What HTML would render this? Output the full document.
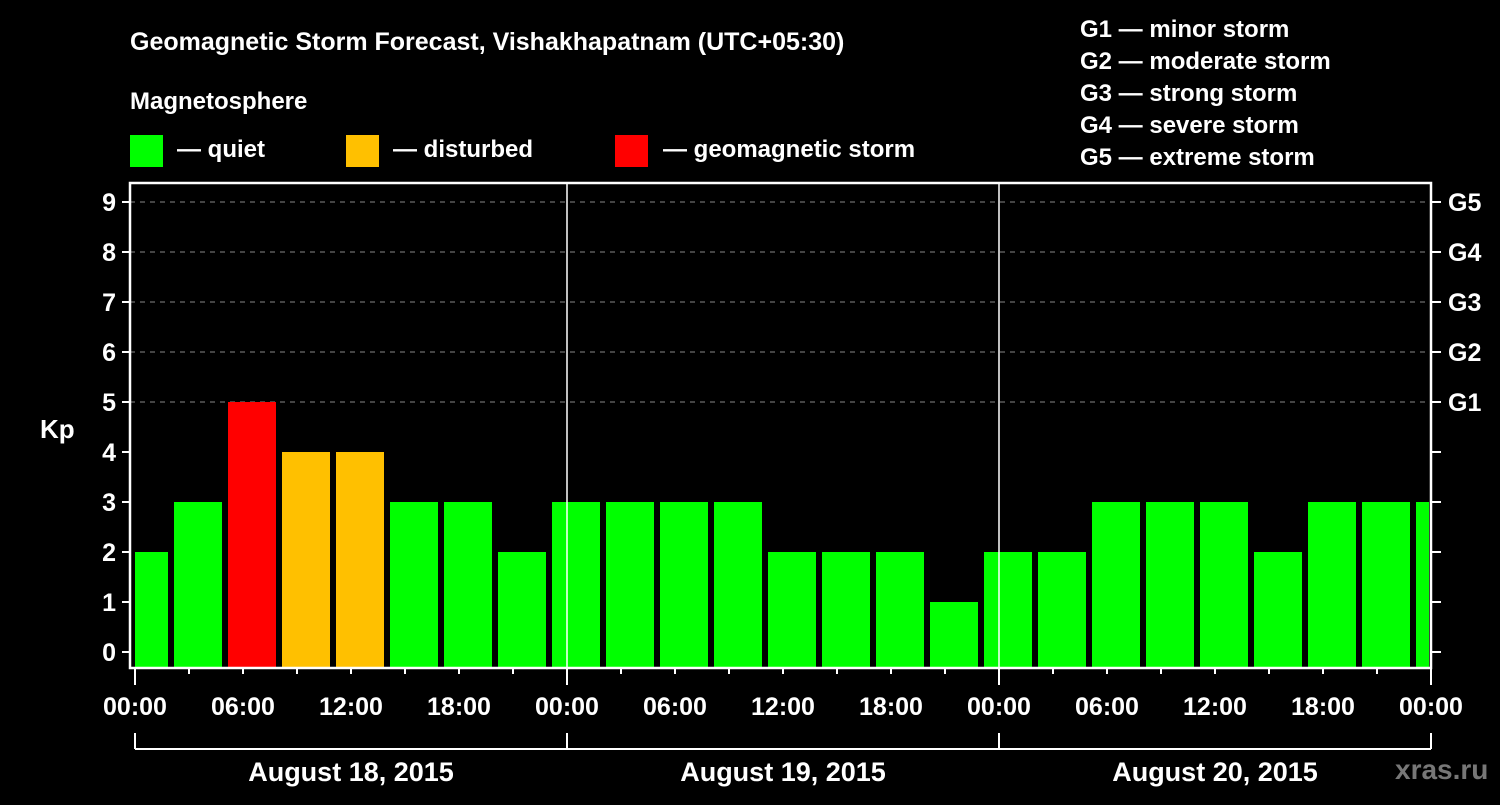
<!DOCTYPE html>
<html><head><meta charset="utf-8"><style>
body{margin:0;background:#000;}
svg text{font-family:"Liberation Sans",sans-serif;font-weight:bold;fill:#fff;}
</style></head><body>
<svg width="1500" height="800" xmlns="http://www.w3.org/2000/svg">
<rect width="1500" height="800" fill="#000"/>
<text x="130" y="50" font-size="25">Geomagnetic Storm Forecast, Vishakhapatnam (UTC+05:30)</text>
<text x="130" y="109" font-size="24">Magnetosphere</text>
<g>
<rect x="130" y="135" width="33" height="32" fill="#00ff00"/>
<text x="177" y="157" font-size="24">— quiet</text>
<rect x="346" y="135" width="33" height="32" fill="#ffc000"/>
<text x="393" y="157" font-size="24">— disturbed</text>
<rect x="615" y="135" width="33" height="32" fill="#ff0000"/>
<text x="663" y="157" font-size="24">— geomagnetic storm</text>
</g>
<g font-size="24">
<text x="1080" y="37">G1 — minor storm</text>
<text x="1080" y="69">G2 — moderate storm</text>
<text x="1080" y="101">G3 — strong storm</text>
<text x="1080" y="133">G4 — severe storm</text>
<text x="1080" y="165">G5 — extreme storm</text>
</g>
<g id="plot"></g>
<text x="40" y="438" font-size="26">Kp</text>
<text x="1395" y="779" font-size="28" style="fill:#777">xras.ru</text>
</svg>
<script>
const kpValues=[2,3,5,4,4,3,3,2, 3,3,3,3,2,2,2,1, 2,2,3,3,3,2,3,3,3];
const yTicks=[0,1,2,3,4,5,6,7,8,9];
const gLabels=["G1","G2","G3","G4","G5"];
const gLevels=[5,6,7,8,9];
const timeLabels=["00:00","06:00","12:00","18:00"];
const dayLabels=["August 18, 2015","August 19, 2015","August 20, 2015"];
const NS="http://www.w3.org/2000/svg";
const L=130,R=1431,T=183,B=668;
const x0=135,pxPerHour=18;
function xs(h){return x0+h*pxPerHour;}
function ys(v){return 652-v*50;}
const g=document.getElementById('plot');
function mk(tag,attrs,parent){const e=document.createElementNS(NS,tag);for(const k in attrs)e.setAttribute(k,attrs[k]);(parent||g).appendChild(e);return e;}
const defs=mk('defs',{});
const cp=mk('clipPath',{id:'clip'},defs);mk('rect',{x:L+5,y:T,width:R-L-7,height:B-T},cp);
// grid
gLevels.forEach(v=>{const l=mk('line',{x1:L,x2:R,y1:ys(v),y2:ys(v),stroke:'#888','stroke-dasharray':'5,5','stroke-width':1});

});
// bars
const bars=mk('g',{'clip-path':'url(#clip)'});
kpValues.forEach((v,i)=>{const c=xs(0.5+3*i);const col=v>=5?'#ff0000':(v>=4?'#ffc000':'#00ff00');
const r=mk('rect',{x:c-24,y:ys(v),width:48,height:B-ys(v),fill:col},bars);

});
// day separators
[24,48].forEach(h=>{const l=mk('line',{x1:xs(h),x2:xs(h),y1:T,y2:B,stroke:'#fff','stroke-width':1.5});

});
// frame
const fr=mk('rect',{x:L,y:T,width:R-L,height:B-T,fill:'none',stroke:'#fff','stroke-width':2.5});


// y ticks
yTicks.forEach(v=>{mk('line',{x1:L-8,x2:L,y1:ys(v),y2:ys(v),stroke:'#fff','stroke-width':2});
mk('line',{x1:R,x2:R+10,y1:ys(v),y2:ys(v),stroke:'#fff','stroke-width':2});
const t=mk('text',{x:L-14,y:ys(v)+9,'font-size':25,'text-anchor':'end'});t.textContent=v;

});
gLabels.forEach((s,i)=>{const t=mk('text',{x:1448,y:ys(gLevels[i])+9,'font-size':25});t.textContent=s;

});
// x ticks
for(let h=0;h<=72;h+=3){const len=(h%24===0)?17:6;mk('line',{x1:xs(h),x2:xs(h),y1:B,y2:B+len,stroke:'#fff','stroke-width':2});}
for(let d=0;d<=3;d++){timeLabels.forEach((s,j)=>{if(d===3&&j>0)return;const t=mk('text',{x:xs(d*24+j*6),y:715,'font-size':25,'text-anchor':'middle'});t.textContent=s;

});}
// day bracket
mk('line',{x1:xs(0),x2:xs(72),y1:749,y2:749,stroke:'#fff','stroke-width':2});
for(let d=0;d<=3;d++)mk('line',{x1:xs(d*24),x2:xs(d*24),y1:733,y2:749,stroke:'#fff','stroke-width':2});
dayLabels.forEach((s,i)=>{const t=mk('text',{x:xs(i*24+12),y:781,'font-size':27,'text-anchor':'middle'});t.textContent=s;

});
</script>
</body></html>
